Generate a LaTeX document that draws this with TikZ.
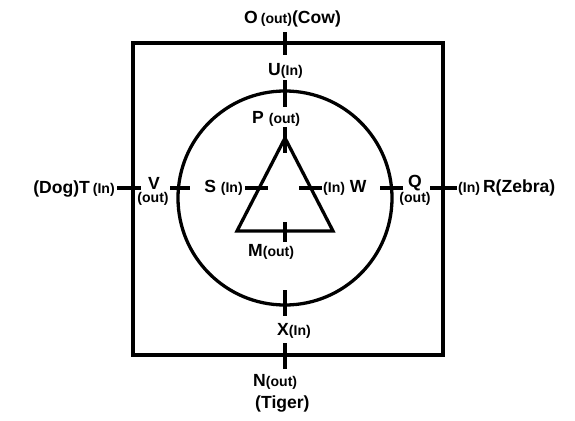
\documentclass[tikz,border=0pt]{standalone}
\usepackage{fontspec}
\setmainfont{Liberation Sans}
\newcommand{\io}[1]{{\fontsize{12}{14}\selectfont #1}}

\begin{document}
\begin{tikzpicture}[x=0.03cm,y=-0.03cm,
    wire/.style={line width=2.8pt},
    lbl/.style={inner sep=0pt,font=\fontsize{15}{17}\selectfont\bfseries},
]
    \useasboundingbox (0,0) rectangle (575,421);
    \draw[wire] (133,43) rectangle (443,355);
    \draw[wire] (285,198) circle[radius=3.21cm];
    \draw[wire,line join=miter] (285,138) -- (237,231) -- (333,231) -- cycle;
    % vertical ticks
    \foreach \ya/\yb in {32/55,80/107,127/153,222/242,290/316,343/369}
        \draw[wire] (285,\ya) -- (285,\yb);
    % horizontal ticks
    \foreach \xa/\xb in {117/141,170/190,245/268,299/322,380/403,430/457}
        \draw[wire] (\xa,188) -- (\xb,188);

    \node[lbl,anchor=west] (o) at (244,19) {O\,\io{(out)}(Cow)};
    \node[lbl,anchor=west] (u) at (268,71) {U\io{(In)}};
    \node[lbl,anchor=west] (p) at (252,119) {P \io{(out)}};
    \node[lbl,anchor=east] (t) at (115,189) {(Dog)T\,\io{(In)}};
    \node[lbl] (v) at (154,183) {V};
    \node[lbl] (vo) at (153,199) {\io{(out)}};
    \node[lbl,anchor=east] (s) at (243,188) {S \io{(In)}};
    \node[lbl,anchor=west] (w) at (323,188) {\io{(In)} W};
    \node[lbl] (q) at (415,183) {Q};
    \node[lbl] (qo) at (415,199) {\io{(out)}};
    \node[lbl,anchor=west] (r) at (458,188) {\io{(In)}\,R(Zebra)};
    \node[lbl,anchor=west] (m) at (248,252) {M\io{(out)}};
    \node[lbl,anchor=west] (x) at (277,331) {X\io{(In)}};
    \node[lbl,anchor=west] (n) at (253,382) {N\io{(out)}};
    \node[lbl,anchor=west] (tiger) at (255,404) {(Tiger)};
\end{tikzpicture}
\end{document}
